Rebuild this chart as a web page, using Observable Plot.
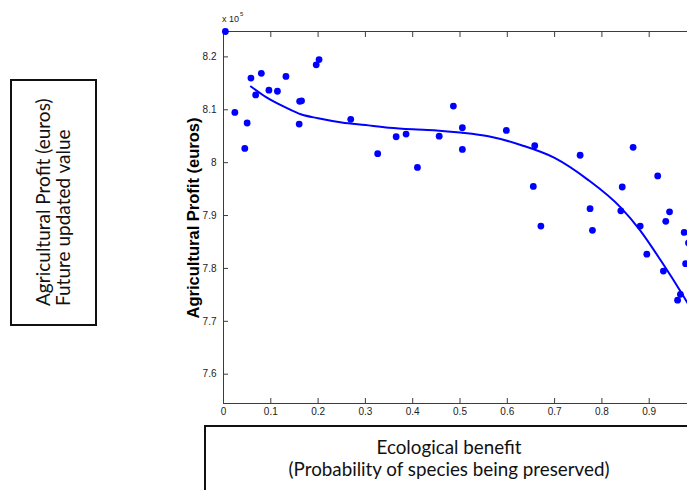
<!DOCTYPE html>
<html>
<head>
<meta charset="utf-8">
<script src="https://cdn.jsdelivr.net/npm/d3@7"></script>
<script src="https://cdn.jsdelivr.net/npm/@observablehq/plot@0.6"></script>
<style>
  html, body { margin: 0; padding: 0; background: #fff; overflow: hidden; }
  #stage { position: relative; width: 687px; height: 490px; overflow: hidden; background: #fff; }
  #chart { position: absolute; left: 0; top: 0; width: 760px; height: 420px; }
  #chart svg { overflow: visible; max-width: none !important; width: 760px !important; height: 420px !important; }
  .exp { position: absolute; left: 222px; top: 14px; font: 9px "Liberation Sans", Arial, sans-serif; color: #222; white-space: nowrap; }
  .exp sup { font-size: 6px; position: relative; top: -3px; vertical-align: top; margin-left: 1px; }
  .ylab { position: absolute; left: 193px; top: 218px; transform: translate(-50%, -50%) rotate(-90deg);
          font: bold 16.5px "Liberation Sans", Arial, sans-serif; color: #000; white-space: nowrap; }
  .lbox { position: absolute; left: 10px; top: 79px; width: 87px; height: 247px; box-sizing: border-box; border: 2px solid #111; }
  .ltext { position: absolute; left: 33px; top: 306px; width: 230px; transform-origin: top left; transform: rotate(-90deg);
           font: 19px Lato, "Open Sans", sans-serif; line-height: 20px; color: #111; text-align: left; white-space: nowrap; }
  .bbox { position: absolute; left: 204px; top: 425px; width: 490px; height: 90px; box-sizing: border-box; border: 2px solid #111;
          padding-top: 9px; text-align: center; font: 18.8px Lato, "Open Sans", sans-serif; line-height: 22px; color: #111; }
</style>
</head>
<body>
<div id="stage">
  <div class="lbox"></div>
  <div class="ltext">Agricultural Profit (euros)<br>Future updated value</div>
  <div id="chart"></div>
  <div class="exp">x 10<sup>5</sup></div>
  <div class="ylab">Agricultural Profit (euros)</div>
  <div class="bbox">Ecological benefit<br>(Probability of species being preserved)</div>
</div>
<script>
// Scatter points: ecological benefit (x) vs agricultural profit (x 10^5 euros)
const benefit = [0.004,0.024,0.045,0.050,0.058,0.068,0.080,0.096,0.114,0.132,0.160,0.161,0.165,0.196,0.202,
                 0.269,0.326,0.365,0.386,0.410,0.456,0.486,0.505,0.505,0.598,0.655,0.658,0.671,0.754,0.775,
                 0.780,0.840,0.843,0.866,0.881,0.895,0.918,0.930,0.935,0.943,0.960,0.966,0.974,0.977,0.983];
const profit  = [8.248,8.095,8.027,8.075,8.160,8.128,8.169,8.137,8.135,8.163,8.073,8.116,8.117,8.185,8.195,
                 8.082,8.017,8.049,8.054,7.991,8.050,8.107,8.066,8.025,8.061,7.955,8.032,7.880,8.014,7.913,
                 7.872,7.909,7.954,8.029,7.880,7.827,7.975,7.795,7.889,7.907,7.740,7.751,7.868,7.809,7.848];

// Fitted trend curve
const fitBenefit = [0.058,0.09,0.13,0.165,0.2,0.25,0.3,0.35,0.4,0.45,0.5,0.56,0.63,0.7,0.77,0.84,0.88,0.926,0.968,1.0];
const fitProfit  = [8.144,8.124,8.105,8.091,8.084,8.076,8.071,8.066,8.063,8.061,8.057,8.050,8.033,8.009,7.968,7.915,7.873,7.813,7.754,7.706];

// Tick values (tick marks run to 1; the visible labels stop at 0.9)
const xTicks = [0,0.1,0.2,0.3,0.4,0.5,0.6,0.7,0.8,0.9,1];
const xTickLabels = [0,0.1,0.2,0.3,0.4,0.5,0.6,0.7,0.8,0.9];
const yTicks = [7.6,7.7,7.8,7.9,8.0,8.1,8.2];

const points = benefit.map((b, i) => ({x: b, y: profit[i]}));
const fit = fitBenefit.map((b, i) => ({x: b, y: fitProfit[i]}));

const axisColor = "#3c3c3c";
const blank = () => "";
const fmt = d3.format("~g");

const chart = Plot.plot({
  width: 760,
  height: 420,
  marginLeft: 223,
  marginRight: 64,
  marginTop: 31,
  marginBottom: 17,
  style: {fontFamily: "'Liberation Sans', Arial, sans-serif", fontSize: "10px", color: "#222", background: "transparent"},
  x: {domain: [0, 1]},
  y: {domain: [7.5446, 8.248]},
  marks: [
    Plot.frame({stroke: axisColor, strokeWidth: 1}),
    Plot.axisX({ticks: xTicks, anchor: "bottom", tickSize: -5, tickFormat: blank, label: null, stroke: axisColor}),
    Plot.axisX({ticks: xTicks, anchor: "top", tickSize: -5, tickFormat: blank, label: null, stroke: axisColor}),
    Plot.axisY({ticks: yTicks, anchor: "left", tickSize: -5, tickFormat: blank, label: null, stroke: axisColor}),
    Plot.axisX({ticks: xTickLabels, anchor: "bottom", tickSize: 0, tickPadding: 4, tickFormat: fmt, label: null, fontSize: 10, fill: "#222"}),
    Plot.axisY({ticks: yTicks, anchor: "left", tickSize: 0, tickPadding: 7, tickFormat: fmt, label: null, fontSize: 10, fill: "#222"}),
    Plot.line(fit, {x: "x", y: "y", stroke: "#0000ff", strokeWidth: 2, curve: "monotone-x"}),
    Plot.dot(points, {x: "x", y: "y", r: 3.4, fill: "#0000ff", stroke: null})
  ]
});
document.getElementById("chart").appendChild(chart);
</script>
</body>
</html>
